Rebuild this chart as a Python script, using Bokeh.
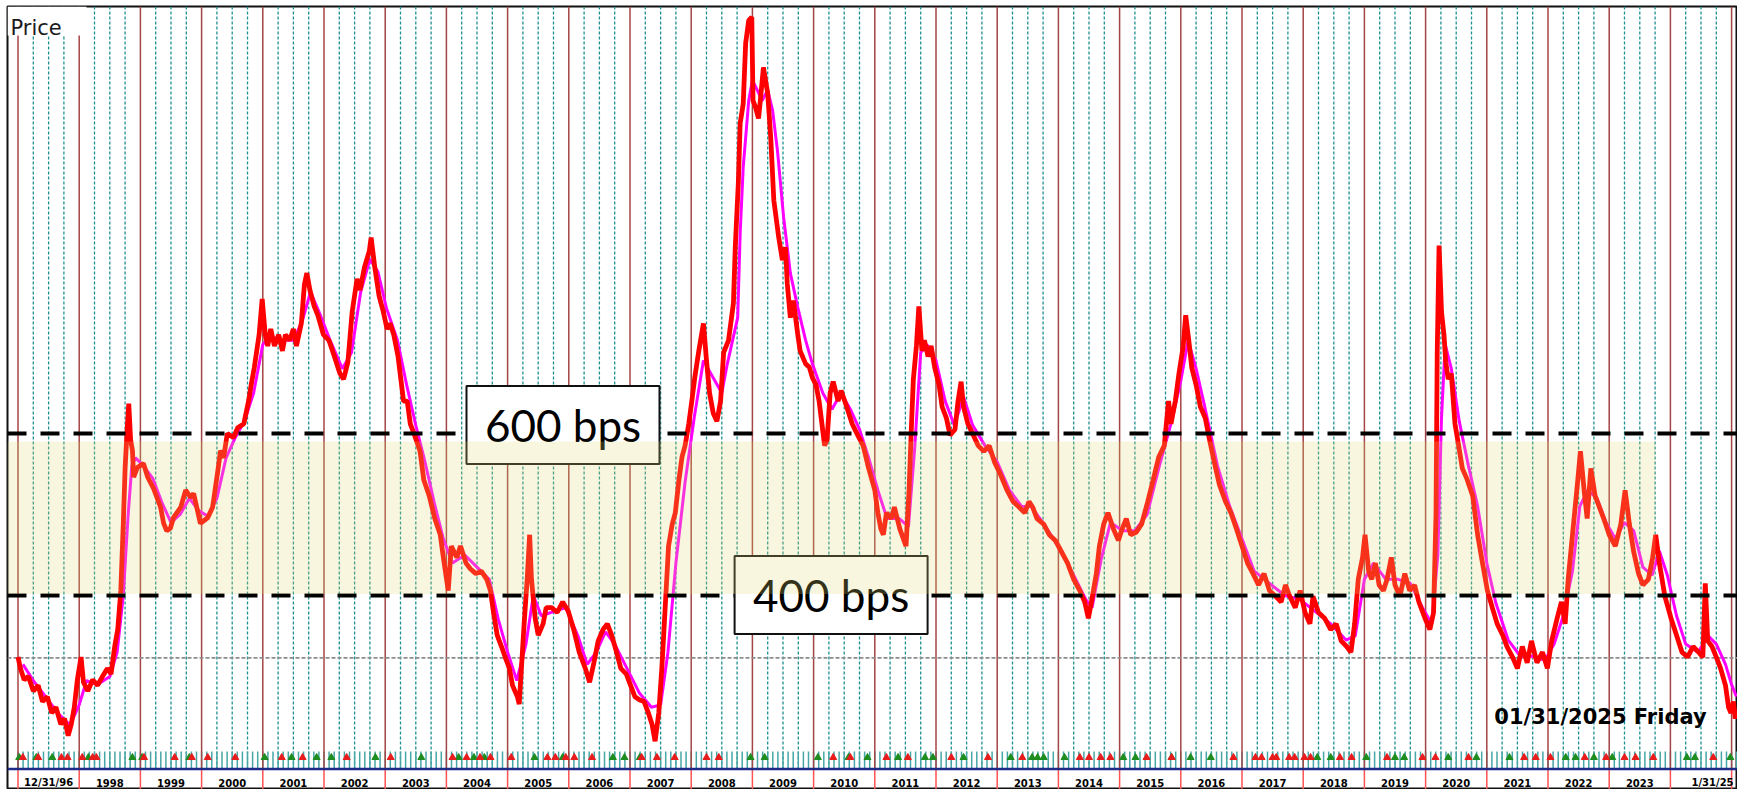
from bokeh.plotting import figure
from bokeh.models import Range1d, BoxAnnotation
from bokeh.core.properties import value
from bokeh.embed import file_html
from bokeh.resources import INLINE

# ---------------- data (decimal year, spread in bps) ----------------
spread_pts = [
    (1997.00, 324), (1997.04, 310), (1997.10, 296), (1997.17, 300), (1997.25, 282), (1997.33, 289),
    (1997.40, 269), (1997.48, 275), (1997.55, 255), (1997.62, 262), (1997.70, 241), (1997.76, 248),
    (1997.82, 227), (1997.87, 241), (1997.92, 262), (1997.97, 296),
    (1998.03, 324), (1998.07, 293), (1998.14, 282), (1998.22, 296), (1998.30, 289), (1998.38, 300),
    (1998.46, 310), (1998.52, 303), (1998.58, 337), (1998.63, 358), (1998.68, 406), (1998.72, 488),
    (1998.75, 557), (1998.78, 600), (1998.81, 637), (1998.84, 592), (1998.87, 579), (1998.89, 546),
    (1998.95, 558),
    (1999.05, 563), (1999.12, 546), (1999.21, 533), (1999.33, 509), (1999.38, 489), (1999.43, 480),
    (1999.49, 483), (1999.54, 496), (1999.66, 509), (1999.74, 530), (1999.82, 521), (1999.87, 526),
    (1999.98, 489),
    (2000.10, 496), (2000.18, 509), (2000.26, 551), (2000.31, 579), (2000.36, 570), (2000.42, 600),
    (2000.52, 595), (2000.59, 607), (2000.69, 612), (2000.77, 641), (2000.81, 660), (2000.86, 681),
    (2000.94, 722), (2000.99, 766),
    (2001.04, 722), (2001.08, 708), (2001.13, 729), (2001.19, 708), (2001.26, 722), (2001.32, 702),
    (2001.37, 722), (2001.44, 715), (2001.50, 729), (2001.55, 708), (2001.63, 736), (2001.68, 784),
    (2001.72, 798), (2001.77, 777), (2001.84, 757), (2001.90, 746), (2001.99, 722),
    (2002.08, 715), (2002.17, 695), (2002.26, 674), (2002.32, 667), (2002.39, 688), (2002.46, 750),
    (2002.54, 791), (2002.59, 777), (2002.66, 805), (2002.74, 825), (2002.77, 842), (2002.83, 805),
    (2002.90, 770), (2002.97, 750),
    (2003.03, 729), (2003.08, 736), (2003.14, 722), (2003.21, 695), (2003.30, 640), (2003.36, 640),
    (2003.41, 612), (2003.48, 598), (2003.57, 578), (2003.63, 543), (2003.72, 523), (2003.81, 495),
    (2003.90, 475), (2003.95, 447),
    (2004.03, 406), (2004.08, 461), (2004.17, 447), (2004.23, 461), (2004.32, 440), (2004.39, 433),
    (2004.48, 427), (2004.57, 430), (2004.66, 420), (2004.72, 406), (2004.77, 379), (2004.83, 351),
    (2004.90, 337), (2004.96, 324),
    (2005.03, 310), (2005.08, 289), (2005.16, 275), (2005.19, 266), (2005.27, 365), (2005.32, 420),
    (2005.36, 475), (2005.39, 420), (2005.45, 372), (2005.50, 351), (2005.58, 365), (2005.63, 385),
    (2005.72, 385), (2005.81, 379), (2005.90, 392), (2005.99, 381),
    (2006.08, 358), (2006.17, 330), (2006.27, 310), (2006.34, 293), (2006.41, 317), (2006.48, 344),
    (2006.56, 358), (2006.63, 365), (2006.70, 351), (2006.78, 330), (2006.85, 310), (2006.94, 303),
    (2007.01, 289), (2007.08, 275), (2007.16, 271), (2007.23, 269), (2007.30, 255), (2007.36, 241),
    (2007.41, 220), (2007.47, 255), (2007.52, 310), (2007.58, 392), (2007.63, 461), (2007.69, 488),
    (2007.74, 502), (2007.80, 543), (2007.85, 571), (2007.90, 585), (2007.96, 612),
    (2008.01, 640), (2008.06, 670), (2008.12, 700), (2008.20, 736), (2008.25, 690), (2008.30, 650),
    (2008.36, 625), (2008.42, 615), (2008.48, 640), (2008.53, 700), (2008.61, 715), (2008.69, 761),
    (2008.72, 830), (2008.77, 909), (2008.80, 983), (2008.85, 1007), (2008.89, 1082), (2008.94, 1110),
    (2008.99, 1114),
    (2009.01, 1011), (2009.05, 1003), (2009.10, 989), (2009.13, 1011), (2009.18, 1052), (2009.25, 1020),
    (2009.30, 965), (2009.35, 888), (2009.43, 842), (2009.49, 814), (2009.54, 830), (2009.57, 785),
    (2009.62, 743), (2009.67, 764), (2009.74, 723), (2009.78, 702), (2009.87, 686), (2009.93, 682),
    (2009.98, 669),
    (2010.04, 660), (2010.09, 640), (2010.18, 585), (2010.22, 592), (2010.27, 650), (2010.32, 664),
    (2010.40, 640), (2010.45, 653), (2010.54, 633), (2010.63, 612), (2010.72, 598), (2010.81, 585),
    (2010.90, 557),
    (2011.00, 530), (2011.05, 502), (2011.10, 482), (2011.14, 475), (2011.19, 502), (2011.27, 495),
    (2011.32, 509), (2011.41, 482), (2011.51, 461), (2011.56, 530), (2011.60, 612), (2011.63, 667),
    (2011.68, 708), (2011.72, 757), (2011.77, 702), (2011.81, 715), (2011.87, 695), (2011.92, 708),
    (2011.98, 681),
    (2012.05, 660), (2012.10, 633), (2012.17, 619), (2012.23, 598), (2012.31, 605), (2012.36, 640),
    (2012.41, 664), (2012.45, 633), (2012.52, 612), (2012.61, 598), (2012.69, 585), (2012.78, 578),
    (2012.87, 585), (2012.96, 564),
    (2013.05, 550), (2013.16, 530), (2013.26, 516), (2013.36, 509), (2013.45, 502), (2013.52, 516),
    (2013.58, 509), (2013.65, 495), (2013.76, 488), (2013.85, 475), (2013.95, 468),
    (2014.05, 454), (2014.15, 440), (2014.25, 420), (2014.35, 406), (2014.43, 392), (2014.49, 372),
    (2014.54, 392), (2014.62, 427), (2014.67, 461), (2014.74, 488), (2014.81, 502), (2014.90, 482),
    (2014.98, 468),
    (2015.04, 482), (2015.11, 495), (2015.18, 475), (2015.27, 478), (2015.36, 488), (2015.46, 516),
    (2015.55, 543), (2015.64, 571), (2015.73, 585), (2015.80, 640), (2015.84, 612), (2015.91, 640),
    (2015.97, 674),
    (2016.04, 708), (2016.08, 746), (2016.13, 715), (2016.18, 681), (2016.25, 660), (2016.32, 633),
    (2016.40, 619), (2016.47, 592), (2016.55, 564), (2016.63, 537), (2016.73, 516), (2016.82, 502),
    (2016.91, 482),
    (2017.00, 461), (2017.09, 440), (2017.18, 427), (2017.27, 413), (2017.36, 427), (2017.45, 406),
    (2017.55, 399), (2017.64, 392), (2017.71, 413), (2017.78, 399), (2017.87, 385), (2017.95, 406),
    (2018.03, 379), (2018.11, 365), (2018.16, 399), (2018.25, 379), (2018.35, 372), (2018.45, 358),
    (2018.54, 365), (2018.62, 344), (2018.71, 337), (2018.78, 330), (2018.84, 365), (2018.90, 420),
    (2018.97, 447),
    (2019.01, 475), (2019.07, 430), (2019.12, 420), (2019.18, 440), (2019.24, 413), (2019.31, 406),
    (2019.37, 420), (2019.44, 447), (2019.50, 413), (2019.58, 399), (2019.66, 427), (2019.74, 406),
    (2019.82, 413), (2019.89, 392), (2019.99, 372),
    (2020.07, 358), (2020.13, 379), (2020.17, 500), (2020.19, 700), (2020.22, 832), (2020.26, 750),
    (2020.30, 722), (2020.33, 688), (2020.37, 667), (2020.42, 674), (2020.48, 612), (2020.54, 585),
    (2020.60, 557), (2020.68, 543), (2020.77, 523), (2020.85, 475), (2020.93, 440),
    (2021.01, 406), (2021.09, 385), (2021.17, 365), (2021.26, 351), (2021.33, 337), (2021.42, 324),
    (2021.50, 310), (2021.58, 337), (2021.66, 317), (2021.73, 344), (2021.82, 317), (2021.91, 330),
    (2021.99, 310),
    (2022.06, 344), (2022.15, 372), (2022.22, 392), (2022.28, 365), (2022.33, 420), (2022.40, 475),
    (2022.48, 537), (2022.53, 578), (2022.59, 530), (2022.64, 495), (2022.70, 557), (2022.77, 523),
    (2022.84, 509), (2022.91, 495),
    (2023.00, 475), (2023.10, 461), (2023.19, 488), (2023.26, 530), (2023.33, 488), (2023.40, 454),
    (2023.48, 427), (2023.55, 413), (2023.64, 420), (2023.71, 447), (2023.76, 475), (2023.82, 440),
    (2023.91, 399),
    (2024.01, 372), (2024.10, 351), (2024.19, 330), (2024.28, 324), (2024.37, 337), (2024.46, 330),
    (2024.53, 324), (2024.57, 415), (2024.61, 344), (2024.68, 337), (2024.75, 324), (2024.82, 310),
    (2024.90, 289), (2024.95, 262), (2024.99, 255),
    (2025.03, 269), (2025.06, 248), (2025.08, 255),
]

ma_pts = [
    (1997.08, 315), (1997.25, 295), (1997.45, 275), (1997.65, 255), (1997.85, 240), (1998.00, 265),
    (1998.12, 295), (1998.30, 290), (1998.50, 300), (1998.62, 330), (1998.72, 400), (1998.80, 500),
    (1998.86, 560), (1998.92, 570), (1999.05, 560), (1999.20, 545), (1999.35, 515), (1999.50, 490),
    (1999.65, 500), (1999.80, 520), (1999.95, 505), (2000.10, 498), (2000.25, 520), (2000.40, 570),
    (2000.55, 595), (2000.70, 615), (2000.85, 650), (2001.00, 710), (2001.12, 720), (2001.30, 715),
    (2001.50, 715), (2001.65, 740), (2001.78, 775), (2001.92, 750), (2002.10, 715), (2002.30, 680),
    (2002.45, 700), (2002.60, 775), (2002.75, 815), (2002.88, 800), (2003.02, 755), (2003.20, 715),
    (2003.35, 660), (2003.50, 610), (2003.65, 565), (2003.80, 515), (2003.95, 470), (2004.10, 440),
    (2004.30, 450), (2004.50, 435), (2004.70, 420), (2004.85, 370), (2005.00, 330), (2005.15, 295),
    (2005.30, 340), (2005.42, 400), (2005.55, 375), (2005.75, 380), (2005.95, 385), (2006.15, 350),
    (2006.30, 315), (2006.45, 330), (2006.60, 355), (2006.75, 340), (2006.95, 310), (2007.15, 280),
    (2007.35, 262), (2007.50, 265), (2007.62, 330), (2007.75, 440), (2007.90, 540), (2008.05, 620),
    (2008.20, 690), (2008.35, 670), (2008.50, 650), (2008.59, 686), (2008.76, 743), (2008.80, 847),
    (2008.85, 929), (2008.94, 1011), (2009.00, 1036), (2009.08, 1024), (2009.16, 1011), (2009.25, 1024),
    (2009.33, 999), (2009.41, 949), (2009.51, 867), (2009.62, 798), (2009.74, 756), (2009.87, 715),
    (2009.98, 686), (2010.15, 650), (2010.30, 630), (2010.45, 650), (2010.60, 630), (2010.75, 605),
    (2010.90, 570), (2011.05, 530), (2011.20, 495), (2011.40, 495), (2011.55, 485), (2011.65, 580),
    (2011.75, 700), (2011.85, 710), (2012.00, 690), (2012.15, 640), (2012.30, 610), (2012.45, 645),
    (2012.60, 610), (2012.80, 585), (2013.00, 565), (2013.20, 530), (2013.40, 510), (2013.55, 510),
    (2013.75, 490), (2014.00, 460), (2014.25, 425), (2014.45, 395), (2014.55, 385), (2014.70, 445),
    (2014.85, 490), (2015.05, 480), (2015.25, 480), (2015.45, 500), (2015.65, 560), (2015.85, 615),
    (2016.00, 665), (2016.12, 715), (2016.25, 680), (2016.40, 630), (2016.60, 560), (2016.80, 510),
    (2017.00, 470), (2017.20, 430), (2017.45, 415), (2017.70, 400), (2017.95, 395), (2018.20, 380),
    (2018.45, 365), (2018.70, 345), (2018.85, 350), (2019.00, 420), (2019.15, 440), (2019.35, 420),
    (2019.55, 420), (2019.75, 415), (2019.95, 385), (2020.10, 365), (2020.20, 450), (2020.26, 620),
    (2020.32, 710), (2020.42, 680), (2020.55, 615), (2020.70, 560), (2020.85, 510), (2021.00, 440),
    (2021.15, 390), (2021.35, 345), (2021.55, 325), (2021.75, 325), (2021.95, 320), (2022.10, 340),
    (2022.25, 375), (2022.40, 430), (2022.52, 510), (2022.65, 530), (2022.80, 520), (2022.95, 490),
    (2023.10, 470), (2023.25, 490), (2023.40, 480), (2023.55, 435), (2023.70, 425), (2023.82, 455),
    (2023.95, 425), (2024.10, 375), (2024.25, 340), (2024.45, 330), (2024.62, 350), (2024.75, 340),
    (2024.90, 315), (2025.00, 290), (2025.08, 275),
]

year_labels = ["12/31/96"] + [str(y) for y in range(1998, 2024)] + ["1/31/25"]
level_values = [600, 400]
level_texts = ["600 bps", "400 bps"]
ref_level = 323
band_low, band_high = 402, 590
date_text = "01/31/2025 Friday"

green_signals = [1997.02, 1997.30, 1997.56, 1998.15, 1998.87, 1999.03, 1999.80, 2001.03, 2001.47,
                 2001.88, 2002.12, 2002.84, 2003.59, 2004.20, 2004.45, 2004.62, 2005.44, 2005.90,
                 2006.72, 2006.91, 2007.16, 2008.97, 2009.20, 2010.07, 2010.57, 2010.88, 2011.38,
                 2011.82, 2011.95, 2012.45, 2013.22, 2013.57, 2013.66, 2013.76, 2014.10, 2015.06,
                 2015.26, 2015.85, 2016.16, 2016.49, 2018.23, 2018.45, 2019.03, 2019.50, 2019.65,
                 2020.37, 2020.83, 2021.37, 2022.29, 2022.45, 2022.75, 2023.05, 2024.27, 2024.40,
                 2024.98]
red_signals = [1997.08, 1997.33, 1997.71, 1997.81, 1998.05, 1998.22, 1998.28, 1999.06, 1999.56,
               1999.84, 2000.10, 2000.55, 2001.31, 2001.65, 2002.37, 2003.09, 2004.10, 2004.33,
               2004.55, 2004.72, 2005.06, 2005.65, 2005.78, 2005.95, 2006.09, 2006.38, 2007.19,
               2007.44, 2007.73, 2008.25, 2008.45, 2010.32, 2010.60, 2011.19, 2011.54, 2012.25,
               2012.85, 2013.41, 2014.35, 2014.50, 2014.69, 2014.85, 2015.44, 2015.85, 2016.86,
               2017.22, 2017.32, 2017.50, 2017.56, 2017.77, 2017.86, 2018.02, 2018.12, 2018.60,
               2018.79, 2019.37, 2019.95, 2020.16, 2020.70, 2021.61, 2021.80, 2022.04, 2022.60,
               2022.95, 2023.25, 2023.43, 2023.72, 2024.70]

spread_dates = [d for d, v in spread_pts]
spread_values = [v for d, v in spread_pts]
ma_dates = [d for d, v in ma_pts]
ma_values = [v for d, v in ma_pts]

# ---------------- layout helpers (pixel geometry of the page) ----------------
PX_YEAR0, PX_PER_YEAR = 17.5, 61.2     # x pixel of 1997-01-01 and pixels per year
PX_400, PX_PER_BP = 595.0, 0.81         # y pixel of 400 bps and pixels per bp


def yr(px):
    return 1997 + (px - PX_YEAR0) / PX_PER_YEAR


def bp(py):
    return 400 + (PX_400 - py) / PX_PER_BP


W, H = 1737, 789
FL, FT = 7, 6          # frame left / top offset inside the canvas
X0, X1 = yr(FL), yr(W)
TOP, BOT = FT, H
p = figure(width=W, height=H, output_backend="svg", toolbar_location=None,
           x_range=Range1d(X0, X1), y_range=Range1d(bp(BOT), bp(TOP)),
           x_axis_location=None, y_axis_location=None,
           min_border_left=FL, min_border_top=FT, min_border_right=0, min_border_bottom=0)
p.extra_y_ranges = {"px": Range1d(start=BOT, end=TOP)}
p.grid.visible = False
p.outline_line_color = "#111111"
p.outline_line_width = 2
p.background_fill_color = "white"
p.border_fill_color = "white"

AXIS_Y = 768.5

# quarterly dotted lines
qx = [1997 + q / 4 for q in range(0, 28 * 4 + 1) if q % 4 != 0]
p.segment(x0=qx, x1=qx, y0=[TOP] * len(qx), y1=[AXIS_Y] * len(qx), y_range_name="px",
          line_color="#1c9090", line_width=1.3, line_dash="3 2")
# monthly ticks in the bottom strip
mx = [1997 + m / 12 for m in range(0, 28 * 12 + 2)]
p.segment(x0=mx, x1=mx, y0=[751] * len(mx), y1=[AXIS_Y] * len(mx), y_range_name="px",
          line_color="#47a6a6", line_width=1.5)
# year boundaries
yx = list(range(1997, 2026))
p.segment(x0=yx, x1=yx, y0=[TOP] * len(yx), y1=[AXIS_Y] * len(yx), y_range_name="px",
          line_color="#a44444", line_width=1.5)
p.segment(x0=yx, x1=yx, y0=[AXIS_Y] * len(yx), y1=[BOT] * len(yx), y_range_name="px",
          line_color="#ff5252", line_width=1.5)
# signal markers in the strip
p.scatter(x=green_signals, y=[757] * len(green_signals), y_range_name="px", marker="triangle",
          size=7, fill_color="#1e8c1e", line_color="#1e8c1e")
p.scatter(x=red_signals, y=[757] * len(red_signals), y_range_name="px", marker="triangle",
          size=7, fill_color="#e81c1c", line_color="#e81c1c")
# axis baseline
p.segment(x0=[X0], x1=[X1], y0=[AXIS_Y], y1=[AXIS_Y], y_range_name="px",
          line_color="#1d2a86", line_width=2.5)

# reference dotted level
p.segment(x0=[X0], x1=[X1], y0=[ref_level], y1=[ref_level], line_color="#8c8c8c",
          line_width=1.6, line_dash="4 2")

# series
p.line(ma_dates, ma_values, line_color="#ff00ff", line_width=3)
p.line(spread_dates, spread_values, line_color="#ff0000", line_width=4.8, line_join="bevel")

# dashed 600 / 400 lines
p.segment(x0=[X0] * 2, x1=[X1] * 2, y0=level_values, y1=level_values,
          line_color="black", line_width=4, line_dash="19 14")

# labelled boxes
box_x = [yr(562.5), yr(830.6)]
box_y = [424.5, 594.6]
p.rect(x=box_x, y=box_y, width=193, height=78, width_units="screen", height_units="screen",
       y_range_name="px", fill_color="white", line_color="#111111", line_width=2)
p.text(x=box_x, y=box_y, text=level_texts, y_range_name="px", text_font=value("Lato"),
       text_font_size="44px", text_align="center", text_baseline="middle", text_color="black")

# "Price" title area
p.quad(left=[X0], right=[yr(86)], bottom=[35], top=[TOP], y_range_name="px",
       fill_color="white", line_color=None)
p.text(x=[yr(10)], y=[27], text=["Price"], y_range_name="px", text_font=value("DejaVu Sans"),
       text_font_size="21px", text_align="left", text_baseline="alphabetic", text_color="#1a1a1a")

# date stamp
p.text(x=[yr(1600)], y=[716.5], text=[date_text], y_range_name="px",
       text_font=value("DejaVu Sans"), text_font_style="bold", text_font_size="21px",
       text_align="center", text_baseline="middle", text_color="black")

# year labels under the axis
label_x = [y + 0.5 for y in range(1997, 2024)] + [yr(1712)]
p.text(x=label_x, y=[782] * len(label_x), text=year_labels, y_range_name="px",
       text_font=value("DejaVu Sans"), text_font_style="bold", text_font_size="10px",
       text_align="center", text_baseline="middle", text_color="black")

# translucent shaded band (drawn over everything)
p.add_layout(BoxAnnotation(left=X0, right=yr(1655), bottom=band_low, top=band_high,
                           fill_color="#e2d971", fill_alpha=0.23, line_color=None))

open("out.html", "w").write(file_html(p, INLINE))
